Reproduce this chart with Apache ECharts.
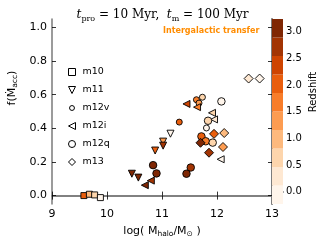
<!DOCTYPE html>
<html><head><meta charset="utf-8">
<script src="https://cdn.jsdelivr.net/npm/echarts@6/dist/echarts.min.js"></script>
<style>html,body{margin:0;padding:0;background:#fff}#c{width:325px;height:244px}</style>
</head><body><div id="c"></div>
<script>
// ---- data (x = log halo mass, y = f(Mdot_acc), z = redshift) ----
var m10X  = [9.58, 9.68, 9.775, 9.88];
var m10Y  = [0.000, 0.008, 0.004, -0.012];
var m10Z  = [2.0, 1.0, 0.6, 0.0];

var m11X  = [10.452, 10.570, 10.875, 11.020, 11.020, 11.154];
var m11Y  = [0.130, 0.107, 0.268, 0.321, 0.297, 0.368];
var m11Z  = [3.0, 3.0, 2.0, 1.3, 2.7, 0.0];

var m12vX = [11.314, 11.626, 11.673, 11.735, 11.808];
var m12vY = [0.437, 0.570, 0.550, 0.585, 0.402];
var m12vZ = [2.0, 1.7, 1.3, 0.6, 0.0];

var m12iX = [10.688, 10.797, 11.445, 11.637, 11.909, 11.946, 12.067];
var m12iY = [0.062, 0.089, 0.545, 0.526, 0.492, 0.453, 0.216];
var m12iZ = [3.0, 2.7, 2.4, 1.7, 0.6, 0.3, 0.0];

var m12qX = [12.080, 11.837, 10.838, 10.900, 11.523, 11.445, 11.717, 11.795, 11.922];
var m12qY = [0.560, 0.445, 0.181, 0.132, 0.167, 0.130, 0.352, 0.323, 0.315];
var m12qZ = [0.0, 0.6, 3.0, 3.0, 2.7, 3.0, 2.0, 1.7, 0.6];

var m13X  = [12.575, 12.775, 11.946, 12.131, 12.109, 11.855, 11.700];
var m13Y  = [0.696, 0.696, 0.367, 0.372, 0.289, 0.255, 0.314];
var m13Z  = [0.3, 0.0, 2.0, 1.0, 1.3, 2.7, 3.0];

var seriesNames = ['m10', 'm11', 'm12v', 'm12i', 'm12q', 'm13'];
var xTicks = [9, 10, 11, 12, 13];
var yTicks = [0.0, 0.2, 0.4, 0.6, 0.8, 1.0];
var cbTicks = [0.0, 0.5, 1.0, 1.5, 2.0, 2.5, 3.0];
var cbMin = -0.23, cbMax = 3.24;
var cbColors = ['#fff5eb', '#fee8d2', '#fdd5ac', '#fdb97d', '#fd9c51',
                '#f87d2a', '#e95e0d', '#ce4401', '#a23403', '#7f2704'];

// ---- build ----
function pts(xs, ys, zs) { return xs.map(function (x, i) { return [x, ys[i], zs[i]]; }); }
var nb = cbColors.length, step = (cbMax - cbMin) / nb;
var pieces = [], cbData = [];
for (var i = 0; i < nb; i++) {
  var lo = cbMin + i * step, hi = cbMin + (i + 1) * step;
  pieces.push({ gte: lo, lt: hi, color: cbColors[i] });
  cbData.push({ value: [lo, hi], itemStyle: { color: cbColors[i] } });
}
pieces[0].gte = -10; pieces[nb - 1].lt = 10;

var spine = '#7a7a7a';
var font = 'DejaVu Sans';
var downTri = 'path://M0,0 L10,0 L5,10 Z';
var leftTri = 'path://M0,5 L10,0 L10,10 Z';
var symDefs = [
  { symbol: 'rect', size: 6, rot: 0, icon: 'path://M1,1 L9,1 L9,9 L1,9 Z' },
  { symbol: 'triangle', size: 7, rot: 180, icon: downTri },
  { symbol: 'circle', size: 6, rot: 0, icon: 'path://M5,1.5 A3.5,3.5 0 1,1 4.99,1.5 Z M0,0 M10,10' },
  { symbol: 'triangle', size: 7, rot: 90, icon: leftTri },
  { symbol: 'circle', size: 7.5, rot: 0, icon: 'circle' },
  { symbol: 'diamond', size: 9, rot: 0, icon: 'diamond' }
];
var allData = [pts(m10X, m10Y, m10Z), pts(m11X, m11Y, m11Z), pts(m12vX, m12vY, m12vZ),
               pts(m12iX, m12iY, m12iZ), pts(m12qX, m12qY, m12qZ), pts(m13X, m13Y, m13Z)];
var series = seriesNames.map(function (n, k) {
  return {
    name: n, type: 'scatter', xAxisIndex: 0, yAxisIndex: 0,
    symbol: symDefs[k].symbol, symbolSize: symDefs[k].size, symbolRotate: symDefs[k].rot,
    itemStyle: { borderColor: '#000', borderWidth: 0.9, opacity: 1 },
    data: allData[k], z: 3
  };
});
series.push({
  type: 'custom', xAxisIndex: 2, yAxisIndex: 2, silent: true,
  renderItem: function (params, api) {
    var p0 = api.coord([0, api.value(1)]);
    var p1 = api.coord([1, api.value(0)]);
    return { type: 'rect', shape: { x: p0[0], y: p0[1], width: p1[0] - p0[0], height: p1[1] - p0[1] },
             style: api.style({ stroke: null }) };
  },
  encode: { x: -1, y: [0, 1] },
  data: cbData, z: 1
});

var axLine = { show: true, lineStyle: { color: spine, width: 1.5 } };
var tickIn = { show: true, inside: true, length: 4, lineStyle: { color: '#000', width: 0.8 } };
var legendData = seriesNames.map(function (n, k) {
  return { name: n, icon: symDefs[k].icon, itemStyle: { color: '#fff', borderColor: '#000', borderWidth: 1 } };
});

var chart = echarts.init(document.getElementById('c'), null, { renderer: 'canvas' });
chart.setOption({
  animation: false,
  backgroundColor: '#fff',
  title: {
    left: 'center', top: 2,
    text: '{i|t}{s|pro}{n| = 10 Myr,  }{i|t}{s|m}{n| = 100 Myr}',
    textStyle: {
      fontWeight: 'normal',
      rich: {
        i: { fontFamily: 'DejaVu Serif', fontStyle: 'italic', fontWeight: 'normal', fontSize: 12, color: '#000', lineHeight: 16, verticalAlign: 'middle' },
        n: { fontFamily: 'DejaVu Serif', fontWeight: 'normal', fontSize: 12, color: '#000', lineHeight: 16, verticalAlign: 'middle' },
        s: { fontFamily: 'DejaVu Serif', fontWeight: 'normal', fontSize: 8, color: '#000', lineHeight: 16, verticalAlign: 'bottom' }
      }
    }
  },
  grid: [
    { left: 52, right: 53, top: 19, bottom: 40 },
    { left: 272, width: 11, top: 19, bottom: 40 }
  ],
  legend: {
    data: legendData, orient: 'vertical', left: 63, top: 62,
    itemWidth: 7, itemHeight: 7, itemGap: 8,
    textStyle: { fontFamily: font, fontSize: 9.5, color: '#000', padding: [0, 0, 0, 2] },
    selectedMode: false
  },
  visualMap: {
    type: 'piecewise', show: false, dimension: 2, seriesIndex: [0, 1, 2, 3, 4, 5],
    pieces: pieces
  },
  xAxis: [
    { gridIndex: 0, type: 'value', position: 'bottom', min: 9, max: 13, interval: 1,
      axisLine: axLine, axisTick: tickIn, splitLine: { show: false },
      axisLabel: { fontFamily: font, fontSize: 11, color: '#000', margin: 5,
                   customValues: xTicks } },
    { gridIndex: 0, type: 'value', position: 'top', min: 9, max: 13, interval: 1,
      axisLine: axLine, axisTick: tickIn, splitLine: { show: false }, axisLabel: { show: false } },
    { gridIndex: 1, type: 'value', position: 'bottom', min: 0, max: 1,
      axisLine: axLine, axisTick: { show: false }, splitLine: { show: false }, axisLabel: { show: false } },
    { gridIndex: 1, type: 'value', position: 'top', min: 0, max: 1,
      axisLine: axLine, axisTick: { show: false }, splitLine: { show: false }, axisLabel: { show: false } }
  ],
  yAxis: [
    { gridIndex: 0, type: 'value', position: 'left', min: -0.05, max: 1.05,
      axisLine: axLine, splitLine: { show: false },
      axisTick: { show: true, inside: true, length: 4, lineStyle: { color: '#000', width: 0.8 }, customValues: yTicks },
      axisLabel: { fontFamily: font, fontSize: 11, color: '#000', margin: 5, customValues: yTicks,
                   formatter: function (v) { return v.toFixed(1); } } },
    { gridIndex: 0, type: 'value', position: 'right', min: -0.05, max: 1.05,
      axisLine: axLine, splitLine: { show: false },
      axisTick: { show: true, inside: true, length: 4, lineStyle: { color: '#000', width: 0.8 }, customValues: yTicks },
      axisLabel: { show: false } },
    { gridIndex: 1, type: 'value', position: 'right', min: cbMin, max: cbMax,
      axisLine: axLine, splitLine: { show: false },
      axisTick: { show: true, inside: false, length: 3, lineStyle: { color: '#000', width: 0.8 }, customValues: cbTicks },
      axisLabel: { fontFamily: font, fontSize: 10, color: '#000', margin: 3, customValues: cbTicks,
                   formatter: function (v) { return v.toFixed(1); } } },
    { gridIndex: 1, type: 'value', position: 'left', min: cbMin, max: cbMax,
      axisLine: axLine, splitLine: { show: false }, axisTick: { show: false }, axisLabel: { show: false } }
  ],
  graphic: [
    { type: 'text', left: 163, top: 27, z: 10,
      style: { text: 'Intergalactic transfer', fill: '#ff8c00', font: 'bold 8px "DejaVu Sans"' } },
    { type: 'text', x: 162, y: 231, z: 10,
      style: { text: '{n|log( M}{s|halo}{n|/M}{s|⊙}{n| )}', align: 'center', verticalAlign: 'middle',
        rich: { n: { fontFamily: font, fontSize: 11, color: '#000', lineHeight: 14, verticalAlign: 'middle' },
                s: { fontFamily: font, fontSize: 7.5, color: '#000', lineHeight: 14, verticalAlign: 'bottom' } } } },
    { type: 'text', x: 12, y: 88, rotation: Math.PI / 2, z: 10,
      style: { text: '{n|f(Ṁ}{s|acc}{n|)}', align: 'center', verticalAlign: 'middle',
        rich: { n: { fontFamily: font, fontSize: 11, color: '#000', lineHeight: 14, verticalAlign: 'middle' },
                s: { fontFamily: font, fontSize: 7.5, color: '#000', lineHeight: 14, verticalAlign: 'bottom' } } } },
    { type: 'text', x: 313, y: 92, rotation: Math.PI / 2, z: 10,
      style: { text: 'Redshift', align: 'center', verticalAlign: 'middle', fill: '#000',
               font: '10px "DejaVu Sans"' } }
  ],
  series: series
});
</script></body></html>
